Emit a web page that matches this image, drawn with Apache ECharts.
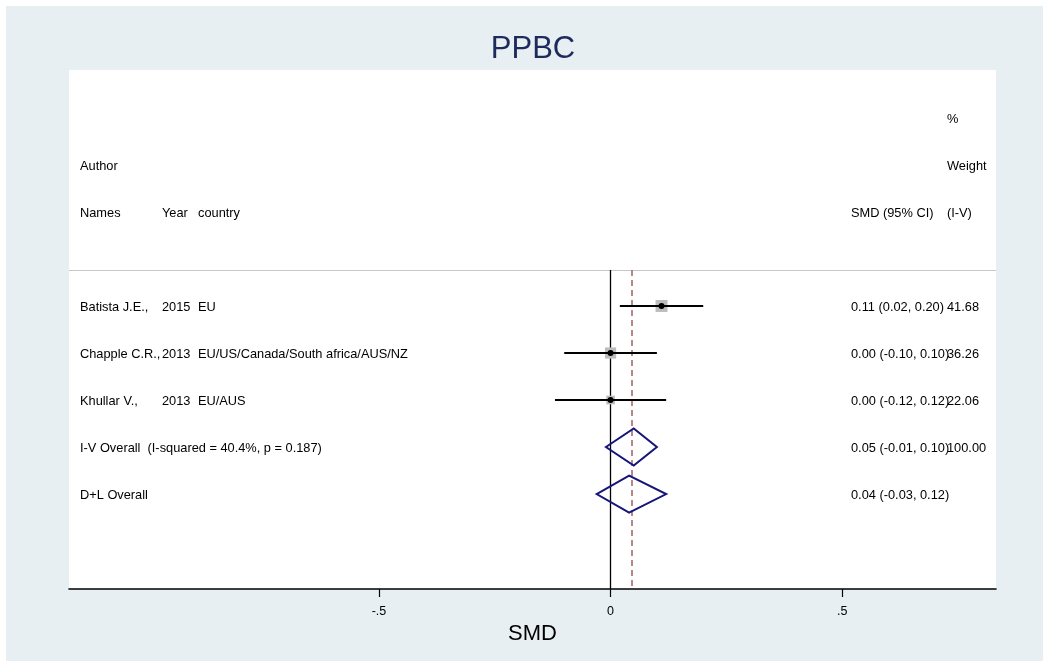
<!DOCTYPE html>
<html><head><meta charset="utf-8">
<script src="https://cdn.jsdelivr.net/npm/echarts@6/dist/echarts.min.js"></script>
<style>html,body{margin:0;padding:0;background:#fff;} #c{position:absolute;left:6px;top:6px;width:1037px;height:655px;}</style>
</head><body><div id="c"></div>
<script>
const chartTitle = 'PPBC';
const axisName = 'SMD';
const authors = ['Batista J.E.,', 'Chapple C.R.,', 'Khullar V.,'];
const years = ['2015', '2013', '2013'];
const countries = ['EU', 'EU/US/Canada/South africa/AUS/NZ', 'EU/AUS'];
const smd = [0.11, 0.00, 0.00];
const ciLow = [0.02, -0.10, -0.12];
const ciHigh = [0.20, 0.10, 0.12];
const weights = [41.68, 36.26, 22.06];
const pooledNames = ['I-V Overall  (I-squared = 40.4%, p = 0.187)', 'D+L Overall'];
const pooledSmd = [0.05, 0.04];
const pooledLow = [-0.01, -0.03];
const pooledHigh = [0.10, 0.12];
const pooledWeights = ['100.00', ''];
const overallLine = 0.046;
const xTicks = [-0.5, 0, 0.5];
const xTickLabels = ['-.5', '0', '.5'];

// layout
const X_MIN = -1.169, X_MAX = 0.832;
const Y_MIN = -0.02, Y_MAX = 11.02, Y_HEADLINE = 4.235;
const FONT = "'Liberation Sans', Arial, sans-serif";
const colOffset = { n: 11, y: 93, c: 129, e: 782, w: 878 };
const TEXT_DY = 1.5;

const fmt = v => v.toFixed(2);
const ciText = (e, l, h) => fmt(e) + ' (' + fmt(l) + ', ' + fmt(h) + ')';

const texts = [
  [1, 'w', '%'],
  [2, 'n', 'Author'], [2, 'w', 'Weight'],
  [3, 'n', 'Names'], [3, 'y', 'Year'], [3, 'c', 'country'], [3, 'e', 'SMD (95% CI)'], [3, 'w', '(I-V)']
];
authors.forEach((a, i) => {
  const r = 5 + i;
  texts.push([r, 'n', a], [r, 'y', years[i]], [r, 'c', countries[i]],
    [r, 'e', ciText(smd[i], ciLow[i], ciHigh[i])], [r, 'w', fmt(weights[i])]);
});
pooledNames.forEach((p, j) => {
  const r = 5 + authors.length + j;
  texts.push([r, 'n', p], [r, 'e', ciText(pooledSmd[j], pooledLow[j], pooledHigh[j])], [r, 'w', pooledWeights[j]]);
});

const studyData = smd.map((v, i) => [v, 5 + i, ciLow[i], ciHigh[i], weights[i]]);
const pooledData = pooledSmd.map((v, j) => [v, 5 + authors.length + j, pooledLow[j], pooledHigh[j]]);

const chart = echarts.init(document.getElementById('c'));
chart.setOption({
  animation: false,
  backgroundColor: '#e8eff2',
  title: {
    text: chartTitle, left: 527, top: 28, textAlign: 'center', padding: 0,
    textStyle: { fontFamily: FONT, fontSize: 31, fontWeight: 'normal', color: '#1c2b5c' }
  },
  grid: { left: 63, right: 47, top: 64, bottom: 72, show: true, backgroundColor: '#ffffff', borderWidth: 0 },
  xAxis: {
    type: 'value', min: X_MIN, max: X_MAX, position: 'bottom',
    splitLine: { show: false },
    axisLine: { show: true, onZero: false, lineStyle: { color: '#000', width: 1.6 } },
    axisTick: { show: true, customValues: xTicks, length: 8, lineStyle: { color: '#000', width: 1.2 } },
    axisLabel: {
      customValues: xTicks, margin: 16, color: '#000', fontFamily: FONT, fontSize: 12.5,
      formatter: v => xTickLabels[xTicks.findIndex(t => Math.abs(t - v) < 1e-9)]
    },
    name: axisName, nameLocation: 'middle', nameGap: 28,
    nameTextStyle: { fontFamily: FONT, fontSize: 22, color: '#000' }
  },
  yAxis: {
    type: 'value', inverse: true, min: Y_MIN, max: Y_MAX, show: false, splitLine: { show: false }
  },
  series: [
    {
      type: 'custom', name: 'studies', clip: false, z: 3,
      data: studyData,
      renderItem: (params, api) => {
        const c = api.coord([api.value(0), api.value(1)]);
        const lo = api.coord([api.value(2), api.value(1)]);
        const hi = api.coord([api.value(3), api.value(1)]);
        const s = 1.85 * Math.sqrt(api.value(4));
        return {
          type: 'group', children: [
            { type: 'rect', shape: { x: c[0] - s / 2, y: c[1] - s / 2, width: s, height: s }, style: { fill: '#bdbdbd' } },
            { type: 'line', shape: { x1: lo[0], y1: lo[1], x2: hi[0], y2: hi[1] }, style: { stroke: '#000', lineWidth: 2 } },
            { type: 'circle', shape: { cx: c[0], cy: c[1], r: 3 }, style: { fill: '#000' } }
          ]
        };
      },
      markLine: {
        silent: true, symbol: ['none', 'none'], label: { show: false }, z: 1,
        data: [
          [{ coord: [X_MIN, Y_HEADLINE], lineStyle: { color: '#c8c8c8', width: 1.2, type: 'solid' } }, { coord: [X_MAX, Y_HEADLINE] }],
          [{ coord: [0, Y_HEADLINE], lineStyle: { color: '#000', width: 1.3, type: 'solid' } }, { coord: [0, Y_MAX] }],
          [{ coord: [overallLine, Y_HEADLINE], lineStyle: { color: '#a0606a', width: 1.5, type: [6, 4] } }, { coord: [overallLine, Y_MAX] }]
        ]
      }
    },
    {
      type: 'custom', name: 'pooled', clip: false, z: 3,
      data: pooledData,
      renderItem: (params, api) => {
        const c = api.coord([api.value(0), api.value(1)]);
        const lo = api.coord([api.value(2), api.value(1)]);
        const hi = api.coord([api.value(3), api.value(1)]);
        const h = 18.5;
        return {
          type: 'polygon',
          shape: { points: [[lo[0], c[1]], [c[0], c[1] - h], [hi[0], c[1]], [c[0], c[1] + h]] },
          style: { fill: 'none', stroke: '#15157a', lineWidth: 2 }
        };
      }
    },
    {
      type: 'custom', name: 'texts', clip: false, z: 4,
      data: texts.map(t => [0, t[0]]),
      renderItem: (params, api) => {
        const t = texts[params.dataIndex];
        const y = api.coord([0, api.value(1)])[1] + TEXT_DY;
        const x = params.coordSys.x + colOffset[t[1]];
        return {
          type: 'text', x: x, y: y,
          style: { text: t[2], fill: '#000', font: '12.8px ' + FONT, verticalAlign: 'middle', align: 'left' }
        };
      }
    }
  ]
});
</script></body></html>
